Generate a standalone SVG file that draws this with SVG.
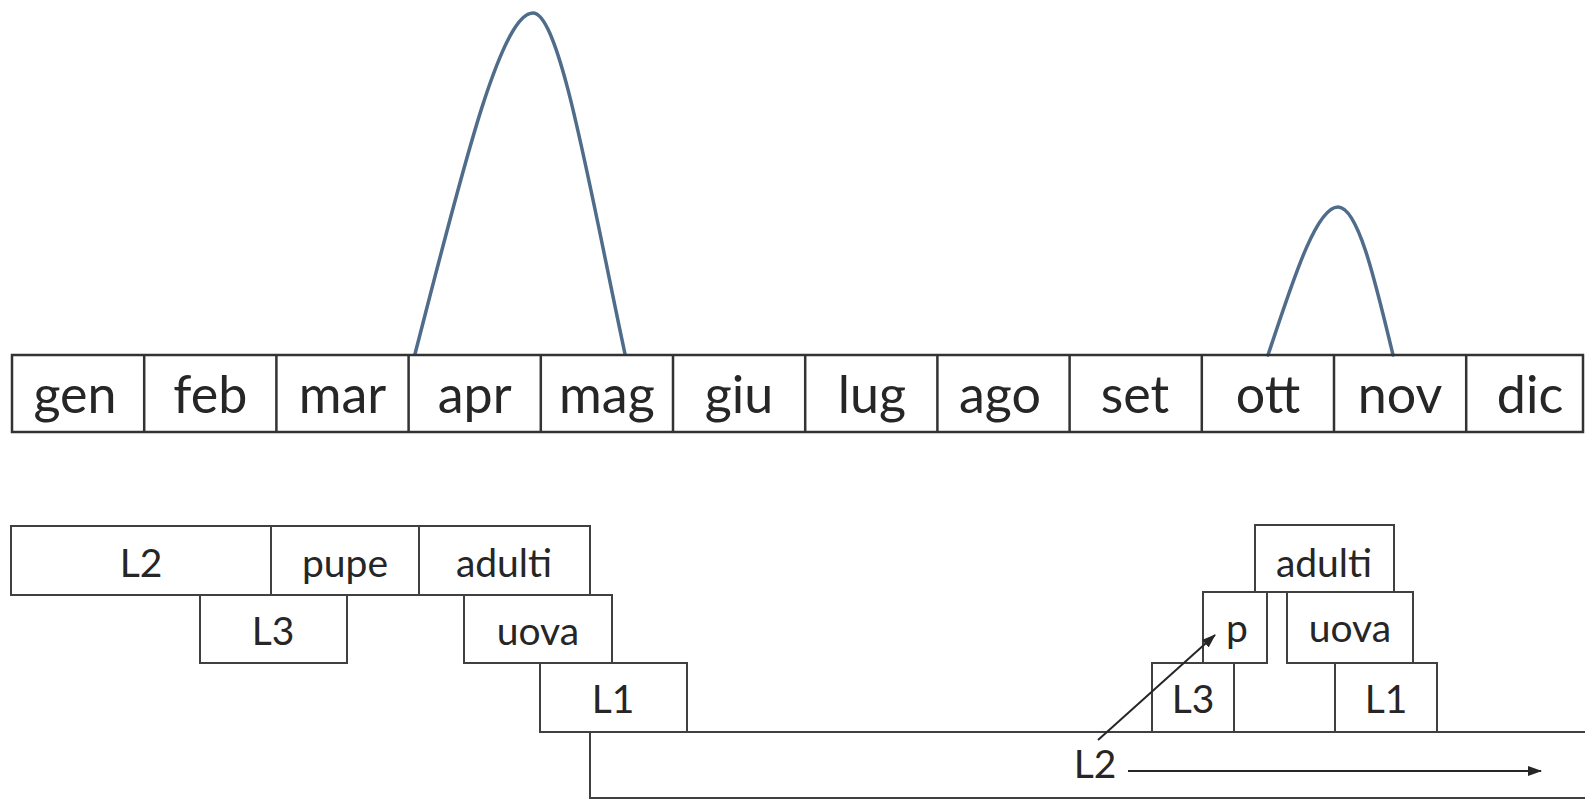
<svg xmlns="http://www.w3.org/2000/svg" width="1585" height="800" viewBox="0 0 1585 800">
<style>
.bg{fill:#ffffff}
.cell{fill:none;stroke:#333333;stroke-width:2.5}
.box{fill:none;stroke:#404040;stroke-width:2}
.mt{font-family:Lato,"Liberation Sans",sans-serif;font-size:52px;fill:#262626;text-anchor:middle}
.bt{font-family:Lato,"Liberation Sans",sans-serif;font-size:39px;fill:#262626;text-anchor:middle}
.curve{fill:none;stroke:#4f6d8a;stroke-width:3.5;stroke-linecap:round}
.arr{fill:none;stroke:#262626;stroke-width:2}
</style>
<defs>
<marker id="ah" markerWidth="14" markerHeight="10" refX="13" refY="5" orient="auto" markerUnits="userSpaceOnUse">
<path d="M0,0 L14,5 L0,10 Z" fill="#262626"/>
</marker>
</defs>
<rect class="bg" x="0" y="0" width="1585" height="800"/>
<g id="curves">
<path class="curve" d="M415,354 C460,180 500,13 533,13 C560,13 590,190 625,354"/>
<path class="curve" d="M1268,355 C1290,290 1315,207 1338,207 C1358,207 1375,280 1393,355"/>
</g>
<g id="months">
<rect class="cell" x="12" y="355" width="1571" height="77"/>
<path class="cell" d="M144.2,355V432M276.4,355V432M408.6,355V432M540.8,355V432M673,355V432M805.2,355V432M937.4,355V432M1069.6,355V432M1201.8,355V432M1334,355V432M1466.2,355V432"/>
<text class="mt" x="75" y="413">gen</text>
<text class="mt" x="210.3" y="413">feb</text>
<text class="mt" x="342.5" y="413">mar</text>
<text class="mt" x="474.7" y="413">apr</text>
<text class="mt" x="606.9" y="413">mag</text>
<text class="mt" x="739.1" y="413">giu</text>
<text class="mt" x="872" y="413">lug</text>
<text class="mt" x="1000" y="413">ago</text>
<text class="mt" x="1135" y="413">set</text>
<text class="mt" x="1268" y="413">ott</text>
<text class="mt" x="1400.1" y="413">nov</text>
<text class="mt" x="1530" y="413">dic</text>
</g>
<g id="left-L2"><rect class="box" x="11" y="526" width="260" height="69"/><text class="bt" x="141" y="577">L2</text></g>
<g id="left-pupe"><rect class="box" x="271" y="526" width="148" height="69"/><text class="bt" x="345" y="577">pupe</text></g>
<g id="left-adulti"><rect class="box" x="419" y="526" width="171" height="69"/><text class="bt" x="504" y="577">adulti</text></g>
<g id="left-L3"><rect class="box" x="200" y="595" width="147" height="68"/><text class="bt" x="273" y="645">L3</text></g>
<g id="left-uova"><rect class="box" x="464" y="595" width="148" height="68"/><text class="bt" x="538" y="645">uova</text></g>
<g id="left-L1"><rect class="box" x="540" y="663" width="147" height="69"/><text class="bt" x="613" y="713">L1</text></g>
<g id="row-L2"><rect class="box" x="590" y="732" width="1010" height="66"/><text class="bt" x="1095" y="778">L2</text></g>
<g id="right-adulti"><rect class="box" x="1255" y="525" width="139" height="67"/><text class="bt" x="1324" y="577">adulti</text></g>
<g id="right-p"><rect class="box" x="1203" y="592" width="64" height="71"/><text class="bt" x="1237" y="642">p</text></g>
<g id="right-uova"><rect class="box" x="1287" y="592" width="126" height="71"/><text class="bt" x="1350" y="642">uova</text></g>
<g id="right-L3"><rect class="box" x="1152" y="663" width="82" height="69"/><text class="bt" x="1193" y="713">L3</text></g>
<g id="right-L1"><rect class="box" x="1335" y="663" width="102" height="69"/><text class="bt" x="1386" y="713">L1</text></g>
<g id="connectors">
<line class="arr" x1="1098" y1="740" x2="1215" y2="635" marker-end="url(#ah)"/>
<line class="arr" x1="1128" y1="771" x2="1541" y2="771" marker-end="url(#ah)"/>
</g>
</svg>
